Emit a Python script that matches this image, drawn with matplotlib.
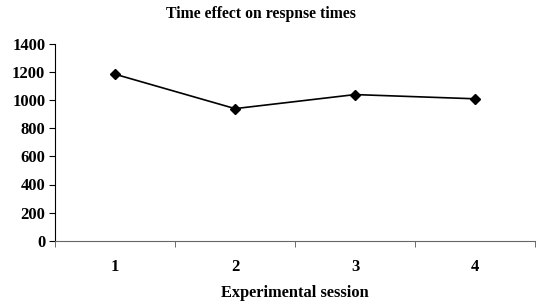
import matplotlib
matplotlib.use("Agg")
import matplotlib.pyplot as plt
from matplotlib.ticker import FixedLocator, NullFormatter

sessions = [1, 2, 3, 4]
response_times = [1185, 940, 1040, 1010]
y_ticks = [0, 200, 400, 600, 800, 1000, 1200, 1400]

plt.rcParams['font.family'] = ['Liberation Serif', 'DejaVu Serif']

fig = plt.figure(figsize=(5.4, 3.04), dpi=100)
ax = fig.add_axes([55/540, 1 - 240.7/304, 480/540, (240.7 - 44)/304])

ax.plot(sessions, response_times, color='black', linewidth=1.2,
        marker='D', markersize=5.5, markerfacecolor='black', markeredgecolor='black')

ax.set_xlim(0.5, 4.5)
ax.set_ylim(0, 1400)
ax.set_yticks(y_ticks)
ax.set_yticklabels([str(v) for v in y_ticks], fontweight='bold', fontsize=12)

ax.set_xticks(sessions)
ax.set_xticklabels([str(s) for s in sessions], fontweight='bold', fontsize=12)
ax.tick_params(axis='x', which='major', length=0, pad=13)
ax.xaxis.set_minor_locator(FixedLocator([0.5, 1.5, 2.5, 3.5, 4.5]))
ax.xaxis.set_minor_formatter(NullFormatter())
ax.tick_params(axis='x', which='minor', length=4, direction='out', color='#555555')
ax.tick_params(axis='y', length=4, direction='out', pad=3)

for s in ['top', 'right']:
    ax.spines[s].set_visible(False)
ax.spines['bottom'].set_color('#666666')
ax.spines['left'].set_color('black')

fig.text(261/540, 1 - 14/304, 'Time effect on respnse times', ha='center', va='center',
         fontweight='bold', fontsize=11.3)
fig.text(295/540, 1 - 293/304, 'Experimental session', ha='center', va='center',
         fontweight='bold', fontsize=11.8)

fig.savefig('out.png', dpi=100)
